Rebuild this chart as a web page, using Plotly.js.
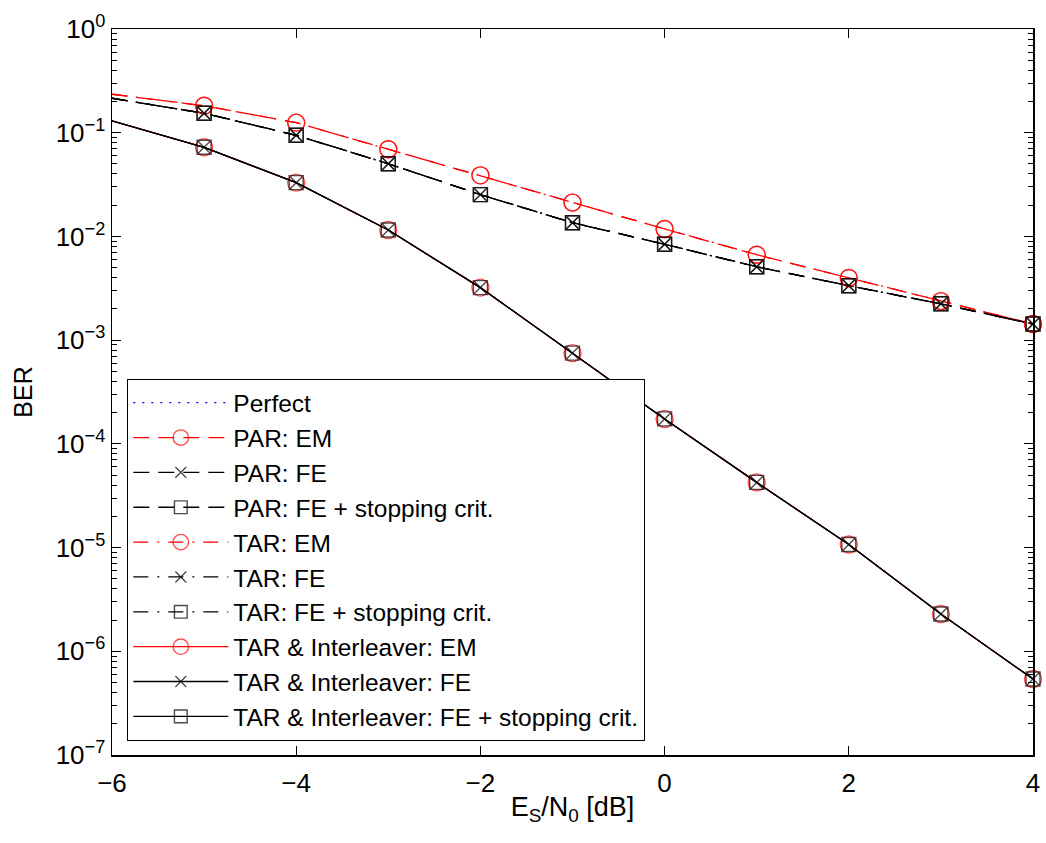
<!DOCTYPE html>
<html>
<head>
<meta charset="utf-8">
<script src="https://cdn.plot.ly/plotly-3.0.1.min.js"></script>
<style>
  html, body { margin: 0; padding: 0; background: #fff; }
  #chart { width: 1046px; height: 843px; }
</style>
</head>
<body>
<div id="chart"></div>
<script>
// E_S/N_0 in dB
const snr = [-6, -5, -4, -3, -2, -1, 0, 1, 2, 3, 4];

// BER values
const berPerfect      = [0.130, 0.0723, 0.0330, 0.01153, 0.00321, 7.5e-4, 1.74e-4, 4.25e-5, 1.07e-5, 2.29e-6, 5.4e-7];
const berParEM        = [0.235, 0.182, 0.125, 0.0692, 0.0388, 0.0212, 0.0118, 0.00666, 0.00397, 0.00238, 0.00143];
const berParFE        = [0.215, 0.154, 0.0944, 0.0502, 0.0253, 0.01355, 0.0084, 0.0051, 0.00335, 0.00224, 0.00143];
const berParFEStop    = [0.215, 0.154, 0.0944, 0.0502, 0.0253, 0.01355, 0.0084, 0.0051, 0.00335, 0.00224, 0.00143];
const berTarEM        = [0.235, 0.182, 0.125, 0.0692, 0.0388, 0.0212, 0.0118, 0.00666, 0.00397, 0.00238, 0.00143];
const berTarFE        = [0.215, 0.154, 0.0944, 0.0502, 0.0253, 0.01355, 0.0084, 0.0051, 0.00335, 0.00224, 0.00143];
const berTarFEStop    = [0.215, 0.154, 0.0944, 0.0502, 0.0253, 0.01355, 0.0084, 0.0051, 0.00335, 0.00224, 0.00143];
const berIntEM        = [0.130, 0.0723, 0.0330, 0.01153, 0.00321, 7.5e-4, 1.74e-4, 4.25e-5, 1.07e-5, 2.29e-6, 5.4e-7];
const berIntFE        = [0.130, 0.0723, 0.0330, 0.01153, 0.00321, 7.5e-4, 1.74e-4, 4.25e-5, 1.07e-5, 2.29e-6, 5.4e-7];
const berIntFEStop    = [0.130, 0.0723, 0.0330, 0.01153, 0.00321, 7.5e-4, 1.74e-4, 4.25e-5, 1.07e-5, 2.29e-6, 5.4e-7];

const seriesNames = [
  'Perfect',
  'PAR: EM',
  'PAR: FE',
  'PAR: FE + stopping crit.',
  'TAR: EM',
  'TAR: FE',
  'TAR: FE + stopping crit.',
  'TAR &amp; Interleaver: EM',
  'TAR &amp; Interleaver: FE',
  'TAR &amp; Interleaver: FE + stopping crit.'
];

const yTickVals = [1e-7, 1e-6, 1e-5, 1e-4, 1e-3, 1e-2, 1e-1, 1];
const yTickText = ['10<sup>\u22127</sup>', '10<sup>\u22126</sup>', '10<sup>\u22125</sup>', '10<sup>\u22124</sup>',
                   '10<sup>\u22123</sup>', '10<sup>\u22122</sup>', '10<sup>\u22121</sup>', '10<sup>0</sup>'];
const xTickVals = [-6, -4, -2, 0, 2, 4];

const DASH = '16px,9px';
const DASHDOT = '15px,9px,2px,9px';
const DOT = '2px,7px';

const styles = [
  {color: '#0000ff', dash: DOT, symbol: null},
  {color: '#ff0000', dash: DASH, symbol: 'circle-open', size: 17},
  {color: '#000000', dash: DASH, symbol: 'x-thin-open', size: 12},
  {color: '#000000', dash: DASH, symbol: 'square-open', size: 14},
  {color: '#ff0000', dash: DASHDOT, symbol: 'circle-open', size: 17},
  {color: '#000000', dash: DASHDOT, symbol: 'x-thin-open', size: 12},
  {color: '#000000', dash: DASHDOT, symbol: 'square-open', size: 14},
  {color: '#ff0000', dash: 'solid', symbol: 'circle-open', size: 17},
  {color: '#000000', dash: 'solid', symbol: 'x-thin-open', size: 12},
  {color: '#000000', dash: 'solid', symbol: 'square-open', size: 14}
];

const allY = [berPerfect, berParEM, berParFE, berParFEStop, berTarEM, berTarFE, berTarFEStop, berIntEM, berIntFE, berIntFEStop];

const traces = allY.map((ys, i) => {
  const s = styles[i];
  const t = {
    type: 'scatter',
    x: snr,
    y: ys,
    name: seriesNames[i],
    legendgroup: 'g' + i,
    line: {color: s.color, width: 1.3, dash: s.dash},
    cliponaxis: false
  };
  if (s.symbol) {
    t.mode = 'lines+markers';
    t.marker = {
      symbol: s.symbol,
      size: snr.map((v, k) => (k === 0 ? 0 : s.size)),
      color: s.color,
      line: {color: s.color, width: 1.4}
    };
  } else {
    t.mode = 'lines';
  }
  return t;
});

const fontFamily = 'Liberation Sans, Arial, sans-serif';
const fLegend = {family: fontFamily, size: 24.5, color: '#000000'};
const fTick = {family: fontFamily, size: 26, color: '#000000'};
const fTitle = {family: fontFamily, size: 27, color: '#000000'};

const layout = {
  width: 1046,
  height: 843,
  margin: {l: 112, r: 13, t: 29, b: 88},
  paper_bgcolor: '#ffffff',
  plot_bgcolor: '#ffffff',
  font: fTick,
  showlegend: true,
  legend: {
    x: 0.0163, y: 0.0193, xanchor: 'left', yanchor: 'bottom',
    bgcolor: '#ffffff',
    bordercolor: '#000000',
    borderwidth: 1.3,
    font: fLegend,
    itemwidth: 95,
    entrywidth: 475,
    entrywidthmode: 'pixels',
    tracegroupgap: 0,
    traceorder: 'normal'
  },
  xaxis: {
    type: 'linear',
    range: [-6, 4],
    tickmode: 'array',
    tickvals: xTickVals,
    ticks: 'inside',
    ticklen: 9,
    tickwidth: 1,
    tickcolor: '#000',
    showline: true,
    linecolor: '#000',
    linewidth: 1.5,
    mirror: 'ticks',
    showgrid: false,
    zeroline: false,
    tickfont: fTick,
    ticklabelstandoff: 4,
    title: {text: 'E<sub>S</sub>/N<sub>0</sub> [dB]', font: fTitle, standoff: 0}
  },
  yaxis: {
    type: 'log',
    range: [-7, 0],
    tickmode: 'array',
    tickvals: yTickVals,
    ticktext: yTickText,
    ticks: 'inside',
    ticklen: 9,
    tickwidth: 1,
    tickcolor: '#000',
    showline: true,
    linecolor: '#000',
    linewidth: 1.5,
    mirror: 'ticks',
    showgrid: false,
    zeroline: false,
    tickfont: fTick,
    minor: {ticks: 'inside', ticklen: 5, tickwidth: 1, tickcolor: '#000', dtick: 'D1', showgrid: false},
    title: {text: 'BER', font: {family: fontFamily, size: 25, color: '#000000'}, standoff: 16}
  }
};

Plotly.newPlot('chart', traces, layout, {displayModeBar: false, staticPlot: true});
</script>
</body>
</html>
